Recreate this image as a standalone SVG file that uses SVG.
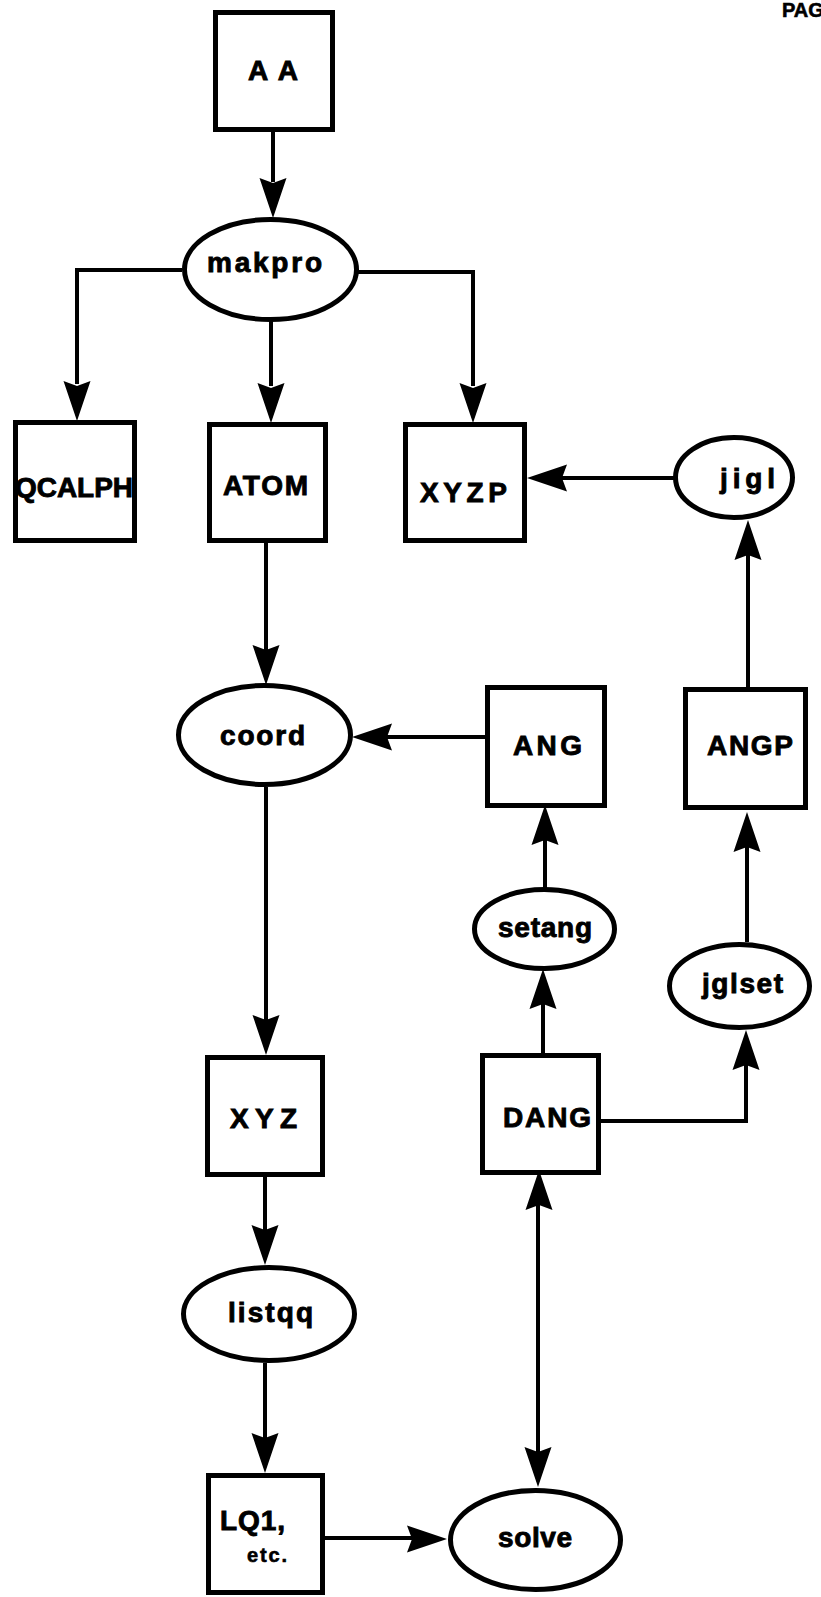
<svg xmlns="http://www.w3.org/2000/svg" xmlns:xlink="http://www.w3.org/1999/xlink" width="821" height="1597" viewBox="0 0 821 1597">
<style>
.bx{fill:#fff;stroke:#000;stroke-width:5}
.el{fill:#fff;stroke:#000;stroke-width:5}
.ln{fill:none;stroke:#000;stroke-width:4}
.t{font-family:"Liberation Sans",Arial,sans-serif;font-weight:bold;font-size:28px;fill:#000;stroke:#000;stroke-width:0.9}
</style>
<defs>
<path id="hd" d="M0,0 L-13.5,-40 L0,-35 L13.5,-40 Z" fill="#000"/>
</defs>
<rect width="821" height="1597" fill="#fff"/>
<text class="t" x="782" y="17" style="font-size:20px;stroke-width:0.6">PAG</text>

<g id="connectors">
<path class="ln" d="M273,132 V182"/>
<use xlink:href="#hd" transform="translate(273,218)"/>
<path class="ln" d="M182,270 H77 V384"/>
<use xlink:href="#hd" transform="translate(77,421)"/>
<path class="ln" d="M271,320 V386"/>
<use xlink:href="#hd" transform="translate(271,423)"/>
<path class="ln" d="M358,272 H473 V386"/>
<use xlink:href="#hd" transform="translate(473,423)"/>
<path class="ln" d="M675,478 H562"/>
<use xlink:href="#hd" transform="translate(527,478) rotate(90)"/>
<path class="ln" d="M266,543 V650"/>
<use xlink:href="#hd" transform="translate(266,685)"/>
<path class="ln" d="M485,737 H386"/>
<use xlink:href="#hd" transform="translate(352,737) rotate(90)"/>
<path class="ln" d="M266,787 V1020"/>
<use xlink:href="#hd" transform="translate(266,1055)"/>
<path class="ln" d="M545,888 V838"/>
<use xlink:href="#hd" transform="translate(545,805) rotate(180)"/>
<path class="ln" d="M543,1053 V1003"/>
<use xlink:href="#hd" transform="translate(543,969) rotate(180)"/>
<path class="ln" d="M601,1121 H746 V1065"/>
<use xlink:href="#hd" transform="translate(746,1030) rotate(180)"/>
<path class="ln" d="M747,942 V846"/>
<use xlink:href="#hd" transform="translate(747,812) rotate(180)"/>
<path class="ln" d="M748,687 V555"/>
<use xlink:href="#hd" transform="translate(748,520) rotate(180)"/>
<path class="ln" d="M265,1177 V1230"/>
<use xlink:href="#hd" transform="translate(265,1265)"/>
<path class="ln" d="M265,1363 V1438"/>
<use xlink:href="#hd" transform="translate(265,1473)"/>
<path class="ln" d="M325,1538 H412"/>
<use xlink:href="#hd" transform="translate(447,1539) rotate(-90)"/>
<path class="ln" d="M538,1205 V1452"/>
<use xlink:href="#hd" transform="translate(539,1170) rotate(180)"/>
<use xlink:href="#hd" transform="translate(538,1487)"/>
</g>

<g id="node-AA">
<rect class="bx" x="215.5" y="12.5" width="117" height="117"/>
<text class="t" x="248" y="80" textLength="50" lengthAdjust="spacing">A A</text>
</g>
<g id="node-makpro">
<ellipse class="el" cx="270.5" cy="269.5" rx="86" ry="50"/>
<text class="t" x="207" y="272" textLength="115" lengthAdjust="spacing">makpro</text>
</g>
<g id="node-QCALPH">
<rect class="bx" x="15.5" y="422.5" width="119" height="118"/>
<text class="t" x="15" y="497" textLength="118" lengthAdjust="spacingAndGlyphs">QCALPH</text>
</g>
<g id="node-ATOM">
<rect class="bx" x="209.5" y="424.5" width="116" height="116"/>
<text class="t" x="223" y="495" textLength="85" lengthAdjust="spacing">ATOM</text>
</g>
<g id="node-XYZP">
<rect class="bx" x="405.5" y="424.5" width="119" height="116"/>
<text class="t" x="420" y="502" textLength="87" lengthAdjust="spacing">XYZP</text>
</g>
<g id="node-jigl">
<ellipse class="el" cx="734" cy="477.5" rx="58.5" ry="40"/>
<text class="t" x="720" y="488" textLength="55" lengthAdjust="spacing">jigl</text>
</g>
<g id="node-coord">
<ellipse class="el" cx="264.5" cy="735" rx="86" ry="49.5"/>
<text class="t" x="220" y="745" textLength="85" lengthAdjust="spacing">coord</text>
</g>
<g id="node-ANG">
<rect class="bx" x="487.5" y="687.5" width="117" height="118"/>
<text class="t" x="513" y="755" textLength="69" lengthAdjust="spacing">ANG</text>
</g>
<g id="node-ANGP">
<rect class="bx" x="685.5" y="689.5" width="120" height="118"/>
<text class="t" x="707" y="755" textLength="86" lengthAdjust="spacing">ANGP</text>
</g>
<g id="node-setang">
<ellipse class="el" cx="544.5" cy="929" rx="70" ry="39.5"/>
<text class="t" x="498" y="937" textLength="94" lengthAdjust="spacing">setang</text>
</g>
<g id="node-jglset">
<ellipse class="el" cx="739.5" cy="986" rx="70" ry="41.5"/>
<text class="t" x="702" y="993" textLength="81" lengthAdjust="spacing">jglset</text>
</g>
<g id="node-XYZ">
<rect class="bx" x="207.5" y="1057.5" width="115" height="117"/>
<text class="t" x="230" y="1128" textLength="67" lengthAdjust="spacing">XYZ</text>
</g>
<g id="node-DANG">
<rect class="bx" x="482.5" y="1055.5" width="116" height="117"/>
<text class="t" x="503" y="1127" textLength="88" lengthAdjust="spacing">DANG</text>
</g>
<g id="node-listqq">
<ellipse class="el" cx="269" cy="1314" rx="85.5" ry="46.5"/>
<text class="t" x="228" y="1322" textLength="85" lengthAdjust="spacing">listqq</text>
</g>
<g id="node-LQ1">
<rect class="bx" x="208.5" y="1475.5" width="114" height="117"/>
<text class="t" x="220" y="1530" textLength="65" lengthAdjust="spacing">LQ1,</text>
<text class="t" x="247" y="1562" style="font-size:20px;stroke-width:0.6" textLength="40" lengthAdjust="spacing">etc.</text>
</g>
<g id="node-solve">
<ellipse class="el" cx="535.5" cy="1540" rx="85" ry="49.5"/>
<text class="t" x="498" y="1547" textLength="74" lengthAdjust="spacing">solve</text>
</g>
</svg>
